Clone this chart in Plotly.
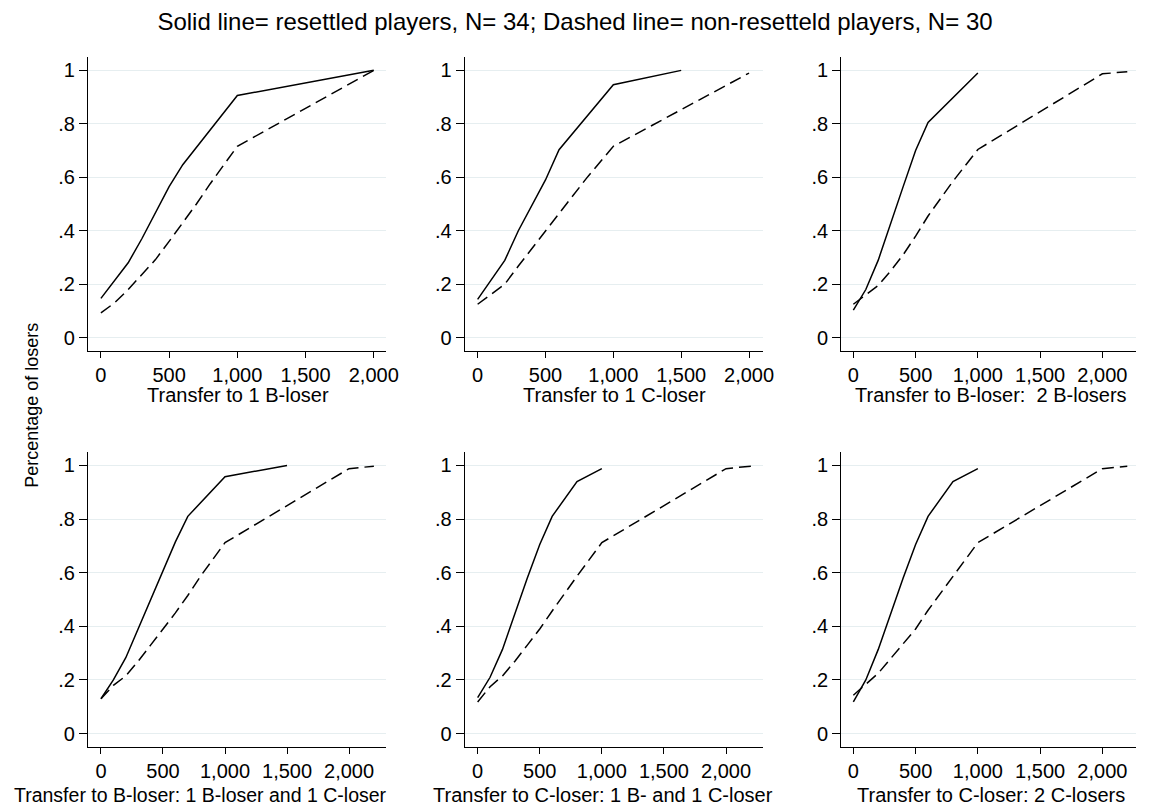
import plotly.graph_objects as go

# The page body adds an 8px margin, so the figure is 8px smaller and all
# reference pixel positions are shifted by OFF.
OFF = 8
W, H = 1149 - OFF, 810 - OFF

# ---------------- data ----------------
titles = [
    "Transfer to 1 B-loser",
    "Transfer to 1 C-loser",
    "Transfer to B-loser:\u00a0 2 B-losers",
    "Transfer to B-loser: 1 B-loser and 1 C-loser",
    "Transfer to C-loser: 1 B- and 1 C-loser",
    "Transfer to C-loser: 2 C-losers",
]

p1_solid_x = [0, 200, 300, 400, 500, 600, 1000, 2000]
p1_solid_y = [0.147, 0.28, 0.37, 0.465, 0.565, 0.647, 0.906, 1.0]
p1_dash_x = [0, 100, 200, 300, 400, 500, 600, 700, 800, 900, 1000, 2000]
p1_dash_y = [0.093, 0.13, 0.18, 0.235, 0.292, 0.36, 0.43, 0.5, 0.575, 0.645, 0.716, 1.0]

p2_solid_x = [0, 200, 300, 500, 600, 1000, 1500]
p2_solid_y = [0.143, 0.289, 0.40, 0.59, 0.703, 0.946, 1.0]
p2_dash_x = [0, 200, 300, 500, 600, 800, 1000, 2000]
p2_dash_y = [0.125, 0.2, 0.268, 0.40, 0.465, 0.595, 0.716, 0.99]

p3_solid_x = [0, 100, 200, 300, 400, 500, 600, 1000]
p3_solid_y = [0.103, 0.18, 0.29, 0.43, 0.565, 0.70, 0.805, 0.99]
p3_dash_x = [0, 100, 200, 300, 400, 500, 600, 800, 1000, 2000, 2200]
p3_dash_y = [0.125, 0.16, 0.195, 0.25, 0.31, 0.38, 0.455, 0.585, 0.704, 0.987, 0.995]

p4_solid_x = [0, 100, 200, 300, 400, 500, 600, 700, 1000, 1500]
p4_solid_y = [0.13, 0.2, 0.283, 0.39, 0.50, 0.61, 0.715, 0.81, 0.958, 1.0]
p4_dash_x = [0, 100, 200, 300, 400, 500, 600, 700, 800, 1000, 2000, 2200]
p4_dash_y = [0.13, 0.18, 0.215, 0.27, 0.33, 0.39, 0.45, 0.515, 0.585, 0.712, 0.988, 0.997]

p5_solid_x = [0, 100, 200, 300, 400, 500, 600, 800, 1000]
p5_solid_y = [0.134, 0.21, 0.314, 0.45, 0.58, 0.705, 0.81, 0.94, 0.988]
p5_dash_x = [0, 100, 200, 300, 400, 500, 600, 800, 1000, 2000, 2200]
p5_dash_y = [0.118, 0.175, 0.215, 0.27, 0.33, 0.39, 0.457, 0.587, 0.712, 0.988, 0.997]

p6_solid_x = [0, 100, 200, 300, 400, 500, 600, 800, 1000]
p6_solid_y = [0.118, 0.2, 0.314, 0.45, 0.58, 0.705, 0.81, 0.94, 0.988]
p6_dash_x = [0, 100, 200, 300, 400, 500, 600, 800, 1000, 2000, 2200]
p6_dash_y = [0.143, 0.185, 0.225, 0.28, 0.335, 0.39, 0.46, 0.587, 0.712, 0.988, 0.997]

y_tickvals = [0, 0.2, 0.4, 0.6, 0.8, 1.0]
y_ticktext = ["0", ".2", ".4", ".6", ".8", "1"]
x_tickvals = [0, 500, 1000, 1500, 2000]
x_ticktext = ["0", "500", "1,000", "1,500", "2,000"]

main_title = "Solid line= resettled players, N= 34; Dashed line= non-resetteld players, N= 30"
y_title = "Percentage of losers"

panels = [
    (p1_solid_x, p1_solid_y, p1_dash_x, p1_dash_y),
    (p2_solid_x, p2_solid_y, p2_dash_x, p2_dash_y),
    (p3_solid_x, p3_solid_y, p3_dash_x, p3_dash_y),
    (p4_solid_x, p4_solid_y, p4_dash_x, p4_dash_y),
    (p5_solid_x, p5_solid_y, p5_dash_x, p5_dash_y),
    (p6_solid_x, p6_solid_y, p6_dash_x, p6_dash_y),
]

# ---------------- layout geometry (reference pixels) ----------------
col_px = [(89, 390), (470, 772), (851, 1149)]
row_px = [(57, 351), (452, 747)]
xtitle_cx = [241, 621, 1002, 203, 610, 1002]
xtitle_cy = [395, 795]
x_ranges = [[-94, 2087], [-95, 2105], [-96, 2270],
            [-104, 2295], [-104, 2300], [-96, 2270]]

FONT = "Liberation Sans, Arial, sans-serif"
fig = go.Figure()
layout = {}
annotations = []

for i, (sx, sy, dx, dy) in enumerate(panels):
    r, c = divmod(i, 3)
    n = "" if i == 0 else str(i + 1)
    xa, ya = "x" + n, "y" + n
    fig.add_trace(go.Scatter(x=dx, y=dy, mode="lines", xaxis=xa, yaxis=ya,
                             line=dict(color="black", width=1.5, dash="12px,6px"),
                             showlegend=False, hoverinfo="x+y"))
    fig.add_trace(go.Scatter(x=sx, y=sy, mode="lines", xaxis=xa, yaxis=ya,
                             line=dict(color="black", width=1.5),
                             showlegend=False, hoverinfo="x+y"))
    x0, x1 = col_px[c]
    t0, t1 = row_px[r]
    layout["xaxis" + n] = dict(
        domain=[(x0 - OFF) / W, min(1.0, (x1 - OFF) / W)], anchor=ya, range=x_ranges[i],
        tickvals=x_tickvals, ticktext=x_ticktext,
        showgrid=False, zeroline=False, showline=True, linecolor="black", linewidth=1.3,
        ticks="outside", ticklen=6, tickwidth=1.3, tickcolor="black",
        tickfont=dict(family=FONT, size=20, color="black"),
        fixedrange=True,
    )
    layout["yaxis" + n] = dict(
        domain=[1 - (t1 - OFF) / H, 1 - (t0 - OFF) / H], anchor=xa, range=[-0.05, 1.05],
        tickvals=y_tickvals, ticktext=y_ticktext,
        showgrid=True, gridcolor="#E6EEF0", gridwidth=1.3, zeroline=False,
        showline=True, linecolor="black", linewidth=1.3,
        ticks="outside", ticklen=8, tickwidth=1.3, tickcolor="black",
        tickfont=dict(family=FONT, size=20, color="black"),
        fixedrange=True,
    )
    annotations.append(dict(
        text=titles[i], xref="paper", yref="paper",
        x=(xtitle_cx[i] - OFF) / W, y=1 - (xtitle_cy[r] - OFF) / H,
        xanchor="center", yanchor="middle", showarrow=False,
        font=dict(family=FONT, size=20 if i != 3 else 19.5, color="black")))

annotations.append(dict(text=y_title, xref="paper", yref="paper",
                        x=(32 - OFF) / W, y=1 - (405 - OFF) / H,
                        xanchor="center", yanchor="middle", textangle=-90, showarrow=False,
                        font=dict(family=FONT, size=18, color="black")))

fig.update_layout(
    width=W, height=H,
    margin=dict(l=0, r=0, t=0, b=0),
    paper_bgcolor="white", plot_bgcolor="white",
    font=dict(family=FONT, color="black"),
    title=dict(text=main_title, x=(575 - OFF) / W, xanchor="center",
               y=1 - (22 - OFF) / H, yanchor="middle",
               font=dict(family=FONT, size=24, color="black")),
    annotations=annotations,
    **layout,
)

fig.write_html("out.html")
